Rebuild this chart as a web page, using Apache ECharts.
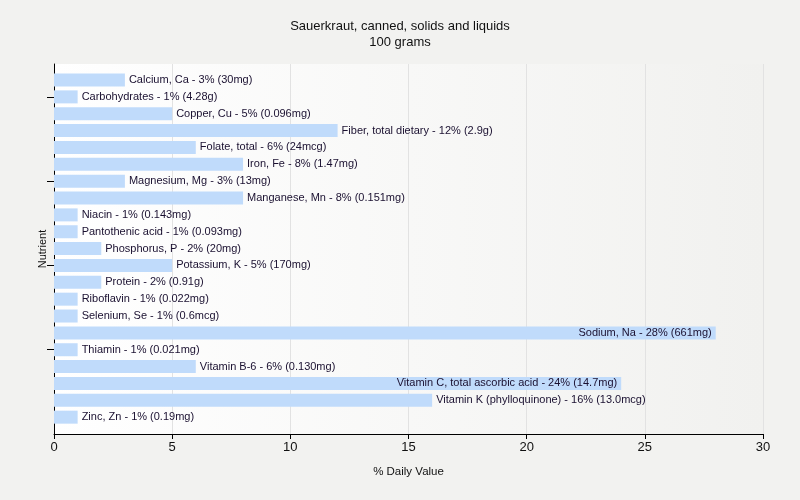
<!DOCTYPE html>
<html>
<head>
<meta charset="utf-8">
<script src="https://cdn.jsdelivr.net/npm/echarts@6/dist/echarts.min.js"></script>
<style>html,body{margin:0;padding:0;background:#f2f2f0;}#c{width:800px;height:500px;}</style>
</head>
<body>
<div id="c"></div>
<script>
const categories = ["Calcium, Ca","Carbohydrates","Copper, Cu","Fiber, total dietary","Folate, total","Iron, Fe","Magnesium, Mg","Manganese, Mn","Niacin","Pantothenic acid","Phosphorus, P","Potassium, K","Protein","Riboflavin","Selenium, Se","Sodium, Na","Thiamin","Vitamin B-6","Vitamin C, total ascorbic acid","Vitamin K (phylloquinone)","Zinc, Zn"];
const values = [3,1,5,12,6,8,3,8,1,1,2,5,2,1,1,28,1,6,24,16,1];
const amounts = ["30mg","4.28g","0.096mg","2.9g","24mcg","1.47mg","13mg","0.151mg","0.143mg","0.093mg","20mg","170mg","0.91g","0.022mg","0.6mcg","661mg","0.021mg","0.130mg","14.7mg","13.0mcg","0.19mg"];
const xTicks = [0,5,10,15,20,25,30];

const font = "'Liberation Sans', Arial, sans-serif";
const chart = echarts.init(document.getElementById('c'));
const data = values.map((v,i)=>({
  value: v,
  label: { position: v > 20 ? 'insideRight' : 'right', distance: 4 }
}));
chart.setOption({
  backgroundColor: '#f2f2f0',
  animation: false,
  title: {
    text: 'Sauerkraut, canned, solids and liquids',
    subtext: '100 grams',
    left: 'center', top: 15, itemGap: 3,
    textStyle: { fontSize: 13, fontWeight: 'normal', color: '#111', fontFamily: font },
    subtextStyle: { fontSize: 13, color: '#111', fontFamily: font }
  },
  grid: [
    { left: 54, right: 37, top: 64, bottom: 66, show: true, borderWidth: 0,
      backgroundColor: new echarts.graphic.LinearGradient(0,0,1,0,[{offset:0,color:'#ffffff'},{offset:1,color:'#f1f1ef'}]) },
    { left: 54, right: 37, top: 71.6, height: 354 }
  ],
  xAxis: [
    { gridIndex: 0, type: 'value', min: xTicks[0], max: xTicks[xTicks.length-1], interval: 5,
      name: '% Daily Value', nameLocation: 'middle', nameGap: 32,
      nameTextStyle: { fontSize: 11.5, color: '#111', fontFamily: font },
      axisLine: { show: true, lineStyle: { color: '#000', width: 1 } },
      axisTick: { show: true, length: 5, lineStyle: { color: '#000' } },
      axisLabel: { fontSize: 13, color: '#111', margin: 7, fontFamily: font },
      splitLine: { show: true, lineStyle: { color: '#e2e2e2', width: 1 } } },
    { gridIndex: 1, type: 'value', min: 0, max: 30, show: false }
  ],
  yAxis: [
    { gridIndex: 0, type: 'value', min: 0, max: 1,
      name: 'Nutrient', nameLocation: 'middle', nameGap: 6, nameRotate: 90,
      nameTextStyle: { fontSize: 11, color: '#111', fontFamily: font },
      axisLine: { show: true, lineStyle: { color: '#000', width: 1 } },
      axisTick: { show: false }, axisLabel: { show: false }, splitLine: { show: false } },
    { gridIndex: 1, type: 'category', data: categories, inverse: true,
      axisLine: { show: false },
      axisTick: { show: true, length: 7, alignWithLabel: true, interval: (i)=> i % 5 === 1, lineStyle: { color: '#000' } },
      axisLabel: { show: false }, splitLine: { show: false } }
  ],
  series: [{
    type: 'bar', xAxisIndex: 1, yAxisIndex: 1,
    data: data, barWidth: 13,
    itemStyle: { color: '#c0dbfb' },
    label: {
      show: true, fontSize: 11, color: '#1a1030', fontFamily: font,
      formatter: (p)=> categories[p.dataIndex] + ' - ' + values[p.dataIndex] + '% (' + amounts[p.dataIndex] + ')'
    }
  }]
});
</script>
</body>
</html>
